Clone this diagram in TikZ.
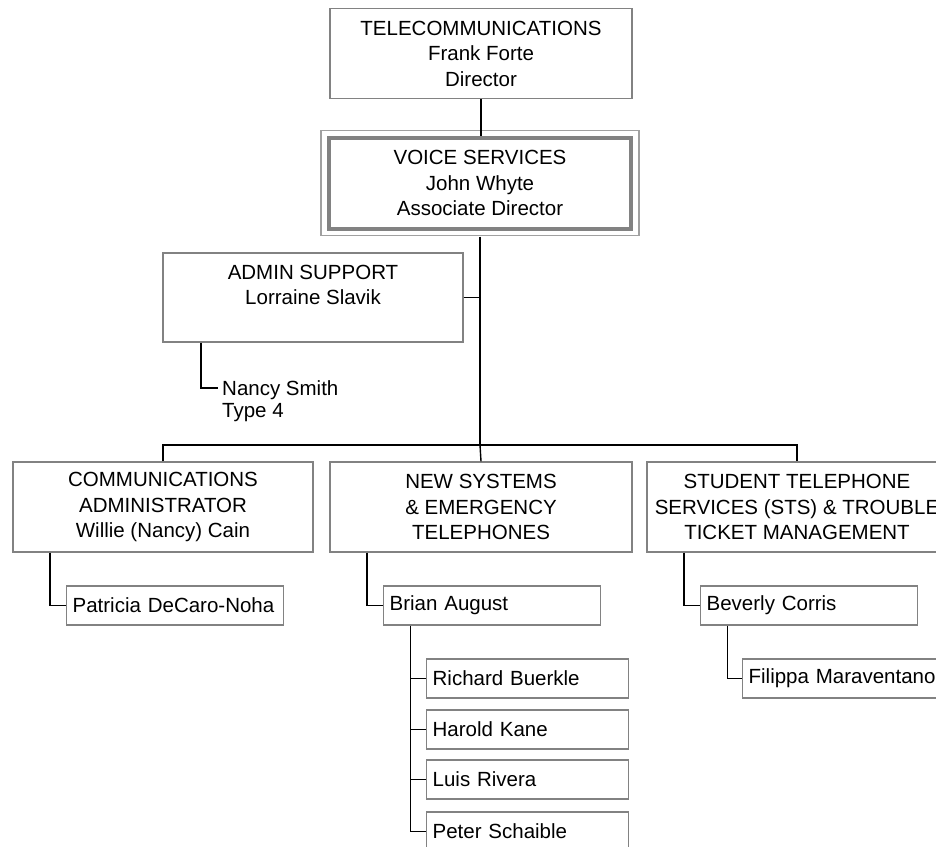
\documentclass[tikz,border=0pt]{standalone}
\usepackage{fontspec}
\setmainfont{Liberation Sans}
\definecolor{boxgray}{RGB}{130,130,130}
\definecolor{lightgray}{RGB}{160,160,160}
\begin{document}
\begin{tikzpicture}[x=1pt,y=-1pt,
  every node/.style={font=\fontsize{20.5}{25.5}\selectfont, text=black},
  orgbox/.style={draw=boxgray, line width=1.3pt, fill=white, align=center,
    inner sep=0pt, minimum width=#1},
  orgbox/.default=302pt,
  namebox/.style={draw=boxgray, line width=1.3pt, fill=white, anchor=west,
    inner sep=0pt, inner xsep=6pt, minimum height=39pt, text width=#1, align=left},
  link/.style={draw=black, line width=1.4pt}]

\useasboundingbox (0,0) rectangle (936,846);
\clip (0,0) rectangle (936,846);

% top of the tree
\node[orgbox, minimum height=90pt] (tele) at (481,53.5)
  {TELECOMMUNICATIONS\\Frank Forte\\Director};
\node[orgbox=302pt, minimum height=91pt, line width=4pt] (voice) at (480,183)
  {VOICE SERVICES\\John Whyte\\Associate Director};
\draw[lightgray, line width=1.2pt]
  ([shift={(-6,-5)}]voice.north west) rectangle ([shift={(6,5)}]voice.south east);

% admin support and its staff
\node[orgbox=300pt, minimum height=89pt] (admin) at (313,297.5)
  {ADMIN SUPPORT\\Lorraine Slavik\\\mbox{}};
\node[anchor=west, inner sep=0pt] (nancy) at (222,390) {Nancy Smith};
\node[anchor=west, inner sep=0pt] (type) at (222,413) {Type 4};

% departments
\node[orgbox=300pt, minimum height=90pt] (comms) at (163,507)
  {COMMUNICATIONS\\ADMINISTRATOR\\Willie (Nancy) Cain};
\node[orgbox=302pt, minimum height=90pt] (newsys) at (481,507)
  {NEW SYSTEMS\\\& EMERGENCY\\TELEPHONES};
\node[orgbox=300pt, minimum height=90pt] (sts) at (797,507)
  {STUDENT TELEPHONE\\SERVICES (STS) \& TROUBLE\\TICKET MANAGEMENT};

% staff boxes
\node[namebox=205pt] (patricia) at (66,605.5) {Patricia DeCaro-Noha};
\node[namebox=205pt] (brian) at (383,605.5) {Brian August};
\node[namebox=205pt] (beverly) at (700,605.5) {Beverly Corris};
\node[namebox=205pt] (filippa) at (742,678.5) {Filippa Maraventano};
\node[namebox=190pt] (richard) at (426,678.5) {Richard Buerkle};
\node[namebox=190pt] (harold) at (426,729.5) {Harold Kane};
\node[namebox=190pt] (luis) at (426,779.5) {Luis Rivera};
\node[namebox=190pt] (peter) at (426,831.5) {Peter Schaible};

% connectors
\coordinate (bus) at (480,445);
\coordinate (nancyhook) at (218,388);
\draw[link] (tele.south) -- (voice.north -| tele.south);
\draw[link] ([yshift=-6pt]voice.south) -- (bus);
\draw[link] (admin.east) -- (admin.east -| bus);
\draw[link] ([xshift=-112pt]admin.south) |- (nancyhook);
\draw[link] (comms.north) |- (bus) -| (sts.north);
\draw[link] (bus) -- (newsys.north);
\draw[link] ([xshift=-113pt]comms.south) |- (patricia.west);
\draw[link] ([xshift=-114pt]newsys.south) |- (brian.west);
\draw[link] ([xshift=-113pt]sts.south) |- (beverly.west);
\draw[link] ([xshift=-81.5pt]beverly.south) |- (filippa.west);
\draw[link] ([xshift=-81.5pt]brian.south) |- (peter.west);
\draw[link] (richard.west) ++(-16,0) -- (richard.west);
\draw[link] (harold.west) ++(-16,0) -- (harold.west);
\draw[link] (luis.west) ++(-16,0) -- (luis.west);
\end{tikzpicture}
\end{document}
